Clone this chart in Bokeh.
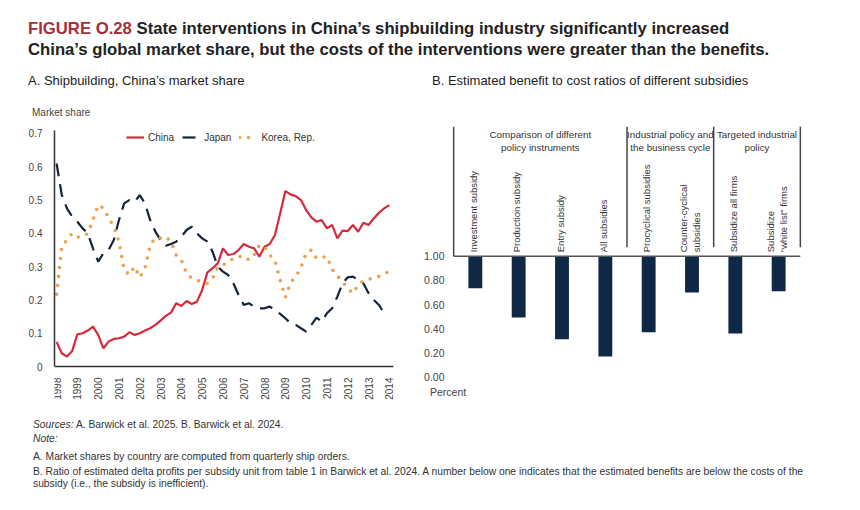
import math
from bokeh.plotting import figure
from bokeh.models import Legend, LegendItem, FixedTicker, Range1d, Div, NumeralTickFormatter
from bokeh.layouts import column, row
from bokeh.embed import file_html
from bokeh.resources import INLINE
from bokeh.core.properties import value

# ---------------- data ----------------
year_ticks = list(range(1998, 2015))
quarters = [y + q / 4 for y in range(1998, 2014) for q in range(4)] + [2014.0]

china = [0.074, 0.040, 0.030, 0.047, 0.097, 0.100, 0.108, 0.120, 0.095, 0.055,
         0.075, 0.083, 0.085, 0.090, 0.103, 0.095, 0.100, 0.108, 0.115, 0.125,
         0.138, 0.152, 0.162, 0.190, 0.182, 0.197, 0.188, 0.195, 0.230, 0.283,
         0.295, 0.310, 0.355, 0.335, 0.338, 0.350, 0.368, 0.360, 0.355, 0.330,
         0.360, 0.368, 0.395, 0.460, 0.527, 0.517, 0.512, 0.500, 0.470, 0.448,
         0.435, 0.440, 0.415, 0.425, 0.385, 0.408, 0.407, 0.425, 0.405, 0.432,
         0.425, 0.445, 0.462, 0.475, 0.485]

japan = [0.610, 0.515, 0.475, 0.450, 0.435, 0.415, 0.400, 0.355, 0.315, 0.340,
         0.350, 0.380, 0.440, 0.490, 0.500, 0.495, 0.515, 0.490, 0.440, 0.405,
         0.380, 0.363, 0.368, 0.375, 0.390, 0.410, 0.420, 0.400, 0.385, 0.375,
         0.345, 0.300, 0.285, 0.275, 0.250, 0.215, 0.185, 0.190, 0.180, 0.175,
         0.175, 0.180, 0.170, 0.158, 0.145, 0.130, 0.125, 0.115, 0.105, 0.125,
         0.147, 0.135, 0.160, 0.175, 0.210, 0.250, 0.268, 0.270, 0.260, 0.250,
         0.220, 0.200, 0.185, 0.160]

korea = [0.217, 0.360, 0.380, 0.400, 0.389, 0.390, 0.400, 0.440, 0.485, 0.476,
         0.447, 0.420, 0.375, 0.290, 0.276, 0.300, 0.268, 0.295, 0.365, 0.386,
         0.386, 0.390, 0.375, 0.335, 0.320, 0.280, 0.265, 0.259, 0.255, 0.250,
         0.265, 0.300, 0.305, 0.315, 0.324, 0.330, 0.332, 0.320, 0.335, 0.365,
         0.358, 0.335, 0.318, 0.260, 0.208, 0.252, 0.270, 0.298, 0.340, 0.350,
         0.325, 0.328, 0.330, 0.292, 0.272, 0.255, 0.235, 0.220, 0.245, 0.258,
         0.262, 0.266, 0.271, 0.280, 0.285]

share_ticks = [0, 0.1, 0.2, 0.3, 0.4, 0.5, 0.6, 0.7]

subsidy_labels = ["Investment subsidy", "Production subsidy", "Entry subsidy",
                  "All subsidies", "Procyclical subsidies",
                  "Counter-cyclical\nsubsidies", "Subsidize all firms",
                  "Subsidize\n\u201cwhite list\u201d firms"]
ratios = [0.735, 0.493, 0.314, 0.171, 0.372, 0.700, 0.361, 0.711]
ratio_ticks = [0, 0.2, 0.4, 0.6, 0.8, 1.0]

group_labels = ["Comparison of different\npolicy instruments",
                "Industrial policy and\nthe business cycle",
                "Targeted industrial\npolicy"]
group_centers = [1.5, 4.5, 6.5]
group_edges = [-0.5, 3.5, 5.5, 7.5]

# ---------------- style ----------------
FONT = "Liberation Sans"
RED = "#d42b3d"
NAVY = "#13243d"
ORANGE = "#eea04f"
BAR = "#0e2846"
TXT = "#444444"
BASE = "white-space:nowrap; transform-origin:0 0; font-family:'Liberation Sans', Arial, sans-serif;"

# ---------------- header ----------------
header_html = f"""
<div style="position:relative; width:860px; height:120px; overflow:hidden; color:#222;">
  <div style="position:absolute; left:28px; top:17.5px; {BASE}
              font-weight:bold; font-size:16.7px; line-height:21px;">
    <span style="color:#a3303b;">FIGURE O.28</span> State interventions in China\u2019s shipbuilding industry significantly increased<br>China\u2019s global market share, but the costs of the interventions were greater than the benefits.
  </div>
  <div style="position:absolute; left:28px; top:72.5px; {BASE}
              font-size:13px; line-height:15px;">A. Shipbuilding, China\u2019s market share</div>
  <div style="position:absolute; left:432px; top:72.5px; {BASE}
              font-size:13px; line-height:15px;">B. Estimated benefit to cost ratios of different subsidies</div>
  <div style="position:absolute; left:32px; top:106px; {BASE}
              font-size:10px; line-height:14px; color:{TXT};">Market share</div>
</div>
"""
header = Div(text=header_html, width=860, height=120, margin=0)

# ---------------- left chart ----------------
# frame: page x 54..393, page y 126..402 ; value 0 at y=366, 0.7 at y=133
left = figure(width=413, height=290, output_backend="svg", toolbar_location=None,
              x_range=Range1d(1997.9, 2014.2), y_range=Range1d(-0.108, 0.721),
              min_border_left=54, min_border_right=20, min_border_top=6,
              min_border_bottom=8)
left.outline_line_color = None
left.xgrid.visible = False
left.ygrid.visible = False

r_china = left.line(quarters, china, line_color=RED, line_width=2.2)
r_japan = left.line(quarters[:len(japan)], japan, line_color=NAVY, line_width=2.2,
                    line_dash="13 8")
r_korea = left.line(quarters, korea, line_color=ORANGE, line_width=3.6,
                    line_dash="0 9", line_cap="round")

for ax in (left.xaxis[0], left.yaxis[0]):
    ax.axis_line_color = "#333333"
    ax.axis_line_width = 1.5
    ax.major_tick_line_color = None
    ax.minor_tick_line_color = None
    ax.major_label_text_font = FONT
    ax.major_label_text_font_size = "10px"
    ax.major_label_text_color = TXT

left.xaxis[0].fixed_location = 0
left.xaxis.ticker = FixedTicker(ticks=year_ticks)
left.xaxis.major_label_orientation = math.pi / 2
left.xaxis.major_label_standoff = 5
left.yaxis.ticker = FixedTicker(ticks=share_ticks)
left.yaxis.bounds = (0, 0.709)
left.yaxis.major_label_overrides = {0: "0"}
left.yaxis.major_label_standoff = 6

legend = Legend(items=[LegendItem(label="China", renderers=[r_china]),
                       LegendItem(label="Japan", renderers=[r_japan]),
                       LegendItem(label="Korea, Rep.", renderers=[r_korea])],
                orientation="horizontal", location=(72, 258),
                border_line_color=None, background_fill_alpha=0,
                padding=0, margin=0, spacing=8, label_standoff=4,
                glyph_width=18, glyph_height=10, label_height=14,
                label_text_font=FONT, label_text_font_size="10px",
                label_text_color="#333333")
left.add_layout(legend)

# ---------------- right chart ----------------
# frame: page x 451..802, page y 126..402 ; 1.00 at y=255.7, 0.00 at y=376.7
pos = list(range(len(ratios)))
right = figure(width=447, height=290, output_backend="svg", toolbar_location=None,
               x_range=Range1d(-0.55, 7.55), y_range=Range1d(-0.209, 2.072),
               x_axis_location=None,
               min_border_left=38, min_border_right=58, min_border_top=6,
               min_border_bottom=8)
right.outline_line_color = None
right.xgrid.visible = False
right.ygrid.visible = False

right.vbar(x=pos, bottom=ratios, top=[1.0] * len(ratios), width=0.32,
           fill_color=BAR, line_color=None)
right.segment(x0=[group_edges[0]], y0=[1.0], x1=[group_edges[-1]], y1=[1.0],
              line_color="#555555", line_width=1.6)
right.segment(x0=group_edges, y0=[1.0, 1.075, 1.075, 1.075], x1=group_edges,
              y1=[2.072] * 4, line_color="#444444", line_width=1.5)

right.text(x=[p - 0.04 for p in pos], y=[1.033] * len(pos), text=subsidy_labels,
           angle=math.pi / 2, text_align="left", text_baseline="middle",
           text_font=value(FONT), text_font_size="9.5px", text_color="#333333",
           text_line_height=1.2)
right.text(x=group_centers, y=[2.055] * 3, text=group_labels,
           text_align="center", text_baseline="top",
           text_font=value(FONT), text_font_size="9.8px", text_color="#333333",
           text_line_height=1.25)

ya = right.yaxis[0]
ya.ticker = FixedTicker(ticks=ratio_ticks)
ya.formatter = NumeralTickFormatter(format="0.00")
ya.axis_line_color = None
ya.major_tick_line_color = None
ya.minor_tick_line_color = None
ya.major_label_standoff = 1
ya.major_label_text_font = FONT
ya.major_label_text_font_size = "10.5px"
ya.major_label_text_color = TXT

# ---------------- notes ----------------
NOTE = f"{BASE} transform:scaleX(0.935); font-size:11px;"
notes_html = f"""
<div style="position:relative; width:860px; height:84px; color:#333;">
  <div style="position:absolute; left:430px; top:-25px; {BASE}
              font-size:10.5px; line-height:14px; color:{TXT};">Percent</div>
  <div style="position:absolute; left:33px; top:7px; {NOTE} line-height:14px;"><i>Sources:</i> A. Barwick et al. 2025. B. Barwick et al. 2024.</div>
  <div style="position:absolute; left:33px; top:21px; {NOTE} line-height:14px;"><i>Note:</i></div>
  <div style="position:absolute; left:33px; top:39px; {NOTE} line-height:14px;">A. Market shares by country are computed from quarterly ship orders.</div>
  <div style="position:absolute; left:33px; top:54.75px; {NOTE} line-height:12.5px;">B. Ratio of estimated delta profits per subsidy unit from table 1 in Barwick et al. 2024. A number below one indicates that the estimated benefits are below the costs of the<br>subsidy (i.e., the subsidy is inefficient).</div>
</div>
"""
notes = Div(text=notes_html, width=860, height=84, margin=0)

layout = column(header, row(left, right), notes)
open("out.html", "w").write(file_html(layout, INLINE))
